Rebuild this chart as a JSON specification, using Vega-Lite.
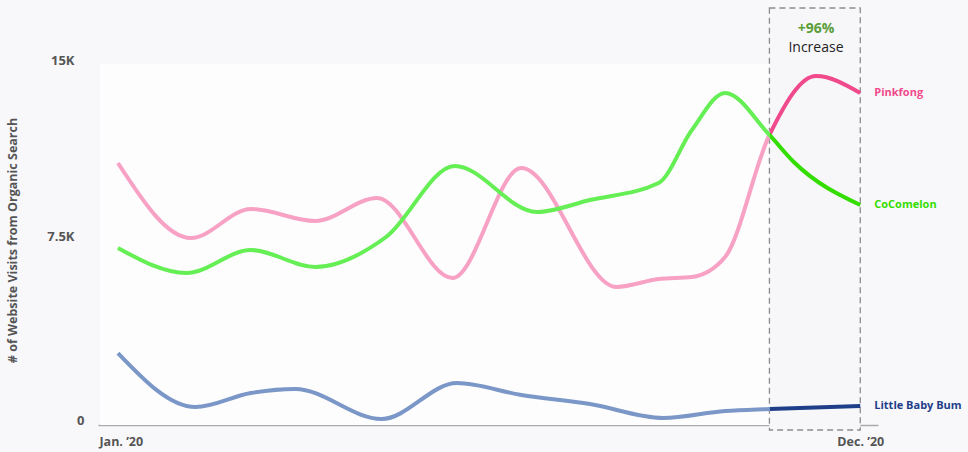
{
  "$schema": "https://vega.github.io/schema/vega-lite/v6.json",
  "width": 780,
  "height": 365,
  "autosize": {"type": "none"},
  "padding": {"left": 98, "top": 60, "right": 90, "bottom": 27},
  "background": "#f8f8fa",
  "config": {"view": {"stroke": null}, "font": "Open Sans"},
  "data": {"values": [
    {"series": "Pinkfong", "date": "2020-01-01", "visits": 10711},
    {"series": "Pinkfong", "date": "2020-02-03", "visits": 7587},
    {"series": "Pinkfong", "date": "2020-03-01", "visits": 8795},
    {"series": "Pinkfong", "date": "2020-03-30", "visits": 8295},
    {"series": "Pinkfong", "date": "2020-04-27", "visits": 9253},
    {"series": "Pinkfong", "date": "2020-05-31", "visits": 5922},
    {"series": "Pinkfong", "date": "2020-07-01", "visits": 10502},
    {"series": "Pinkfong", "date": "2020-08-13", "visits": 5547},
    {"series": "Pinkfong", "date": "2020-09-01", "visits": 5880},
    {"series": "Pinkfong", "date": "2020-09-16", "visits": 5963},
    {"series": "Pinkfong", "date": "2020-10-01", "visits": 6796},
    {"series": "Pinkfong", "date": "2020-10-21", "visits": 11877},
    {"series": "Pinkfong", "date": "2020-11-11", "visits": 14334},
    {"series": "Pinkfong", "date": "2020-12-01", "visits": 13626},
    {"series": "CoComelon", "date": "2020-01-01", "visits": 7171},
    {"series": "CoComelon", "date": "2020-02-01", "visits": 6130},
    {"series": "CoComelon", "date": "2020-03-01", "visits": 7088},
    {"series": "CoComelon", "date": "2020-03-30", "visits": 6379},
    {"series": "CoComelon", "date": "2020-05-01", "visits": 7629},
    {"series": "CoComelon", "date": "2020-06-01", "visits": 10586},
    {"series": "CoComelon", "date": "2020-07-08", "visits": 8670},
    {"series": "CoComelon", "date": "2020-08-01", "visits": 9170},
    {"series": "CoComelon", "date": "2020-09-01", "visits": 9877},
    {"series": "CoComelon", "date": "2020-09-16", "visits": 12085},
    {"series": "CoComelon", "date": "2020-10-01", "visits": 13626},
    {"series": "CoComelon", "date": "2020-10-21", "visits": 11877},
    {"series": "CoComelon", "date": "2020-11-01", "visits": 10752},
    {"series": "CoComelon", "date": "2020-12-01", "visits": 8962},
    {"series": "Little Baby Bum", "date": "2020-01-01", "visits": 2798},
    {"series": "Little Baby Bum", "date": "2020-02-05", "visits": 549},
    {"series": "Little Baby Bum", "date": "2020-03-01", "visits": 1132},
    {"series": "Little Baby Bum", "date": "2020-03-21", "visits": 1299},
    {"series": "Little Baby Bum", "date": "2020-04-29", "visits": 50},
    {"series": "Little Baby Bum", "date": "2020-06-02", "visits": 1549},
    {"series": "Little Baby Bum", "date": "2020-07-01", "visits": 1049},
    {"series": "Little Baby Bum", "date": "2020-08-01", "visits": 674},
    {"series": "Little Baby Bum", "date": "2020-09-03", "visits": 91},
    {"series": "Little Baby Bum", "date": "2020-10-01", "visits": 383},
    {"series": "Little Baby Bum", "date": "2020-10-21", "visits": 466},
    {"series": "Little Baby Bum", "date": "2020-12-01", "visits": 591}
  ]},
  "encoding": {
    "x": {
      "field": "date", "type": "temporal",
      "scale": {"type": "utc", "domain": [{"year": 2019, "month": 12, "date": 23, "utc": true}, {"year": 2020, "month": 12, "date": 9, "utc": true}]},
      "axis": {
        "title": null,
        "values": [{"year": 2020, "month": 1, "date": 1, "utc": true}, {"year": 2020, "month": 12, "date": 1, "utc": true}],
        "labelExpr": "datum.index == 0 ? 'Jan. ’20' : 'Dec. ’20'",
        "labelAlign": {"expr": "datum.index == 0 ? 'left' : 'center'"},
        "labelOffset": {"condition": {"test": "datum.index == 0", "value": -19}, "value": 0},
        "labelFontSize": 12.5, "labelFontWeight": "bold", "labelColor": "#555555",
        "labelPadding": 10, "labelBaseline": "top",
        "ticks": false, "grid": false,
        "domainColor": "#aaaaaa", "domainWidth": 1.5
      }
    },
    "y": {
      "field": "visits", "type": "quantitative",
      "scale": {"domain": [-200, 15000], "nice": false, "zero": false},
      "axis": {
        "title": "# of Website Visits from Organic Search",
        "titleFontSize": 12.5, "titleFontWeight": "bold", "titleColor": "#555555",
        "titleX": -86, "titleY": 180, "titleBaseline": "middle", "titleAlign": "center", "titleAngle": -90,
        "values": [0, 7500, 15000],
        "labelExpr": "datum.value == 0 ? '0' : (datum.value == 7500 ? '7.5K' : '15K')",
        "labelPadding": {"condition": {"test": "datum.value == 0", "value": 14}, "value": 24},
        "labelOffset": {"condition": {"test": "datum.value == 7500", "value": -4}, "value": 0},
        "labelFontSize": 13, "labelFontWeight": "bold", "labelColor": "#555555",
        "ticks": false, "grid": false, "domain": false
      }
    }
  },
  "layer": [
    {
      "transform": [{"filter": "datum.series == 'Pinkfong' && utcmonth(datum.date) == 0"}],
      "mark": {"type": "rect", "fill": "#fdfdfe", "stroke": null},
      "encoding": {
        "x": {"datum": {"year": 2019, "month": 12, "date": 24, "utc": true}, "type": "temporal"},
        "x2": {"datum": {"year": 2020, "month": 10, "date": 21, "utc": true}},
        "y": {"datum": 14833},
        "y2": {"datum": -200}
      }
    },
    {
      "transform": [{"filter": "datum.series == 'Pinkfong' && utcmonth(datum.date) == 0"}],
      "mark": {"type": "rect", "fill": "#f7f7f9", "stroke": "#8c8c8c", "strokeWidth": 1.3, "strokeDash": [6, 4], "clip": false},
      "encoding": {
        "x": {"datum": {"year": 2020, "month": 10, "date": 21, "utc": true}, "type": "temporal"},
        "x2": {"datum": {"year": 2020, "month": 12, "date": 1, "utc": true}},
        "y": {"datum": 17165},
        "y2": {"datum": -409}
      }
    },
    {
      "transform": [{"filter": "datum.series == 'Little Baby Bum'"}],
      "mark": {"type": "line", "interpolate": "monotone", "strokeWidth": 4, "strokeCap": "butt",
        "stroke": {"gradient": "linear", "x1": 0, "y1": 0, "x2": 1, "y2": 0, "stops": [
          {"offset": 0, "color": "#7b97c7"}, {"offset": 0.8787, "color": "#7b97c7"},
          {"offset": 0.8787, "color": "#1f3e8a"}, {"offset": 1, "color": "#1f3e8a"}]}},
      "encoding": {}
    },
    {
      "transform": [{"filter": "datum.series == 'Pinkfong'"}],
      "mark": {"type": "line", "interpolate": "monotone", "strokeWidth": 4, "strokeCap": "butt",
        "stroke": {"gradient": "linear", "x1": 0, "y1": 0, "x2": 1, "y2": 0, "stops": [
          {"offset": 0, "color": "#f7a1c4"}, {"offset": 0.8787, "color": "#f7a1c4"},
          {"offset": 0.8787, "color": "#f04a8c"}, {"offset": 1, "color": "#f04a8c"}]}},
      "encoding": {}
    },
    {
      "transform": [{"filter": "datum.series == 'CoComelon'"}],
      "mark": {"type": "line", "interpolate": "monotone", "strokeWidth": 4, "strokeCap": "butt",
        "stroke": {"gradient": "linear", "x1": 0, "y1": 0, "x2": 1, "y2": 0, "stops": [
          {"offset": 0, "color": "#66ee55"}, {"offset": 0.8787, "color": "#66ee55"},
          {"offset": 0.8787, "color": "#33dd00"}, {"offset": 1, "color": "#33dd00"}]}},
      "encoding": {}
    },
    {
      "transform": [{"filter": "utcmonth(datum.date) == 11"}],
      "mark": {"type": "text", "align": "left", "baseline": "middle", "dx": 14, "fontSize": 11, "fontWeight": "bold"},
      "encoding": {
        "text": {"field": "series"},
        "color": {"field": "series", "type": "nominal", "legend": null,
          "scale": {"domain": ["Pinkfong", "CoComelon", "Little Baby Bum"], "range": ["#f04a8c", "#33dd00", "#1f3e8a"]}}
      }
    },
    {
      "transform": [{"filter": "datum.series == 'Pinkfong' && utcmonth(datum.date) == 0"}],
      "mark": {"type": "text", "text": "+96%", "align": "center", "baseline": "middle", "fontSize": 14, "fontWeight": "bold", "color": "#5b9e3a"},
      "encoding": {
        "x": {"datum": {"year": 2020, "month": 11, "date": 11, "utc": true}, "type": "temporal"},
        "y": {"datum": 16300}
      }
    },
    {
      "transform": [{"filter": "datum.series == 'Pinkfong' && utcmonth(datum.date) == 0"}],
      "mark": {"type": "text", "text": "Increase", "align": "center", "baseline": "middle", "fontSize": 14, "color": "#222222"},
      "encoding": {
        "x": {"datum": {"year": 2020, "month": 11, "date": 11, "utc": true}, "type": "temporal"},
        "y": {"datum": 15500}
      }
    }
  ]
}
